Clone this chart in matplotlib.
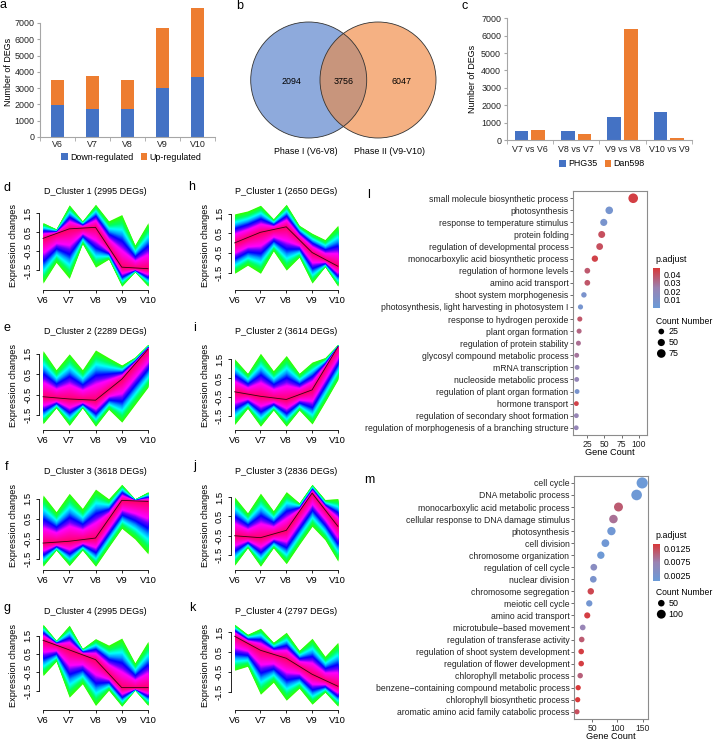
import numpy as np
import matplotlib
matplotlib.use("Agg")
import matplotlib.pyplot as plt
from matplotlib.colors import LinearSegmentedColormap, Normalize
from matplotlib.patches import Circle

plt.rcParams['font.family'] = ['Liberation Sans', 'DejaVu Sans']
plt.rcParams['axes.unicode_minus'] = False

W, H = 714, 741
fig = plt.figure(figsize=(W / 100, H / 100), dpi=100)

BLUE = "#4472c4"
ORANGE = "#ed7d31"
GRAY = "#a6a6a6"
FS = 6.4

# ---- data ----
stages = ["V6", "V7", "V8", "V9", "V10"]
down_reg = [1950, 1730, 1690, 3020, 3680]
up_reg = [1550, 2030, 1810, 3670, 4220]

venn_only1 = 2094
venn_both = 3756
venn_only2 = 6047

comparisons = ["V7 vs V6", "V8 vs V7", "V9 vs V8", "V10 vs V9"]
phg35 = [520, 500, 1300, 1590]
dan598 = [590, 350, 6400, 130]

# cluster profiles: centre at V6..V10, envelope at V6, V6-V7, V7, ... V10
d_titles = ["D_Cluster 1 (2995 DEGs)", "D_Cluster 2 (2289 DEGs)",
            "D_Cluster 3 (3618 DEGs)", "D_Cluster 4 (2995 DEGs)"]
d_center = [[0.18, 0.68, 0.76, -1.33, -1.41],
            [-0.61, -0.72, -0.78, 0.25, 1.73],
            [-0.70, -0.61, -0.45, 1.42, 1.37],
            [1.24, 0.72, 0.19, -1.33, -1.33]]
d_upper = [[1.01, 0.68, 1.94, 1.10, 1.97, 1.10, 1.43, -0.16, 1.01],
           [1.66, 0.72, 1.50, 0.72, 1.69, 1.31, 0.95, 1.34, 1.97],
           [1.69, 0.86, 1.77, 1.02, 1.98, 1.50, 2.22, 1.50, 1.85],
           [2.11, 1.24, 2.06, 0.80, 1.33, 0.98, 1.36, 0.02, 1.19]]
d_lower = [[-2.17, -1.08, -1.92, -0.10, -1.33, -0.91, -2.33, -1.58, -2.33],
           [-1.94, -1.16, -2.02, -1.16, -2.06, -1.23, -1.86, -1.00, -0.14],
           [-1.85, -1.05, -1.82, -1.05, -1.85, -0.90, 0.03, -0.50, -1.24],
           [-0.68, 0.10, -1.85, -1.12, -2.30, -1.47, -2.34, -1.47, -2.30]]

p_titles = ["P_Cluster 1 (2650 DEGs)", "P_Cluster 2 (3614 DEGs)",
            "P_Cluster 3 (2836 DEGs)", "P_Cluster 4 (2797 DEGs)"]
p_center = [[0.02, 0.56, 0.84, -0.47, -1.17],
            [-0.23, -0.47, -0.64, -0.13, 2.17],
            [-0.51, -0.61, -0.23, 1.70, -0.02],
            [1.30, 0.60, 0.20, -0.60, -1.20]]
p_upper = [[1.50, 1.65, 1.94, 1.25, 1.99, 0.92, 0.51, 0.19, 0.92],
           [1.53, 0.76, 1.83, 0.90, 1.71, 0.76, 1.36, 1.60, 2.31],
           [1.50, 0.68, 1.70, 0.79, 1.78, 1.20, 2.16, 1.37, 1.42],
           [1.90, 1.40, 1.70, 1.00, 1.50, 0.60, 1.20, 0.30, 1.00]]
p_lower = [[-1.53, -1.12, -1.53, -0.39, -1.37, -0.71, -2.03, -1.20, -2.19],
           [-1.98, -1.12, -2.07, -1.21, -2.07, -1.21, -1.95, -0.78, 0.42],
           [-2.04, -1.14, -2.09, -1.14, -1.96, -0.97, -0.02, -0.72, -1.83],
           [-0.40, -0.20, -1.60, -1.00, -1.90, -1.30, -2.10, -1.50, -2.20]]

l_terms = ["small molecule biosynthetic process", "photosynthesis",
           "response to temperature stimulus", "protein folding",
           "regulation of developmental process",
           "monocarboxylic acid biosynthetic process",
           "regulation of hormone levels", "amino acid transport",
           "shoot system morphogenesis",
           "photosynthesis, light harvesting in photosystem I",
           "response to hydrogen peroxide", "plant organ formation",
           "regulation of protein stability",
           "glycosyl compound metabolic process", "mRNA transcription",
           "nucleoside metabolic process",
           "regulation of plant organ formation", "hormone transport",
           "regulation of secondary shoot formation",
           "regulation of morphogenesis of a branching structure"]
l_count = [92, 57, 49, 46, 43, 36, 25, 25, 20, 15, 14, 13, 12, 9.5, 10,
           9.5, 10, 9, 9, 8.8]
l_padj = [0.045, 0.006, 0.007, 0.040, 0.040, 0.044, 0.037, 0.038, 0.008,
          0.006, 0.038, 0.033, 0.030, 0.028, 0.021, 0.021, 0.007, 0.044,
          0.022, 0.021]

m_terms = ["cell cycle", "DNA metabolic process",
           "monocarboxylic acid metabolic process",
           "cellular response to DNA damage stimulus", "photosynthesis",
           "cell division", "chromosome organization",
           "regulation of cell cycle", "nuclear division",
           "chromosome segregation", "meiotic cell cycle",
           "amino acid transport", "microtubule\u2212based movement",
           "regulation of transferase activity",
           "regulation of shoot system development",
           "regulation of flower development",
           "chlorophyll metabolic process",
           "benzene\u2212containing compound metabolic process",
           "chlorophyll biosynthetic process",
           "aromatic amino acid family catabolic process"]
m_count = [149, 138, 102, 92, 88, 76, 67, 53, 52, 47, 44, 40, 31, 29, 28,
           28, 26, 22, 21, 19.6]
m_padj = [0.0010, 0.0012, 0.0110, 0.0090, 0.0015, 0.0015, 0.0012, 0.0050,
          0.0030, 0.0128, 0.0020, 0.0135, 0.0070, 0.0110, 0.0135, 0.0135,
          0.0105, 0.0140, 0.0140, 0.0120]


def px_axes(x0, y0, x1, y1):
    return fig.add_axes([x0 / W, 1 - y1 / H, (x1 - x0) / W, (y1 - y0) / H])


def px_text(x, y, s, **kw):
    fig.text(x / W, 1 - y / H, s, **kw)


def excel_axes(ax):
    for side in ["top", "right"]:
        ax.spines[side].set_visible(False)
    for side in ["left", "bottom"]:
        ax.spines[side].set_color(GRAY)
        ax.spines[side].set_linewidth(0.8)
    ax.tick_params(labelsize=FS, colors="#222222")
    ax.tick_params(axis="y", length=2.5, color=GRAY, pad=1.5)


# ---- a: stacked bars ----
ax = px_axes(40, 6.7, 215, 137)
x = np.arange(len(stages))
ax.bar(x, down_reg, 0.37, color=BLUE, label="Down-regulated")
ax.bar(x, up_reg, 0.37, bottom=down_reg, color=ORANGE, label="Up-regulated")
ax.set_xlim(-0.5, 4.5)
ax.set_ylim(0, 8000)
ax.set_yticks(range(0, 7001, 1000))
ax.set_xticks(x)
ax.set_xticklabels(stages)
ax.set_xticks(np.arange(-0.5, 5), minor=True)
excel_axes(ax)
ax.spines["left"].set_bounds(0, 7000)
ax.tick_params(axis="x", which="major", length=0, pad=2.5)
ax.tick_params(axis="x", which="minor", length=3, color=GRAY)
ax.set_ylabel("Number of DEGs", fontsize=FS)
ax.yaxis.set_label_coords(-27 / 175, 0.5)
ax.legend(loc="center", bbox_to_anchor=(131.5 / W, 1 - 157 / H),
          bbox_transform=fig.transFigure, ncol=2, frameon=False,
          fontsize=FS, handlelength=0.7, handleheight=0.7,
          handletextpad=0.3, columnspacing=0.8)

# ---- b: venn ----
ax = px_axes(235, 15, 455, 170)
ax.set_xlim(235, 455)
ax.set_ylim(170, 15)
ax.axis("off")
c1 = Circle((308.7, 80), 58, facecolor="#8eaadc", edgecolor="none")
c2 = Circle((378, 80), 58, facecolor="#f5b183", edgecolor="none")
ax.add_patch(c1)
ax.add_patch(c2)
inter = Circle((308.7, 80), 58, facecolor="#c8957c", edgecolor="none")
ax.add_patch(inter)
inter.set_clip_path(c2)
for cx in [308.7, 378]:
    ax.add_patch(Circle((cx, 80), 58, facecolor="none", edgecolor="#333333",
                        lw=0.6))
ax.text(291, 82, str(venn_only1), fontsize=FS, ha="center", va="center")
ax.text(344, 82, str(venn_both), fontsize=FS, ha="center", va="center")
ax.text(402, 82, str(venn_only2), fontsize=FS, ha="center", va="center")
ax.text(306, 151, "Phase I (V6-V8)", fontsize=FS, ha="center", va="center")
ax.text(389, 151, "Phase II (V9-V10)", fontsize=FS, ha="center", va="center")

# ---- c: grouped bars ----
ax = px_axes(506.7, 18.3, 692, 140)
x = np.arange(len(comparisons))
ax.bar(x - 0.18, phg35, 0.29, color=BLUE, label="PHG35")
ax.bar(x + 0.18, dan598, 0.29, color=ORANGE, label="Dan598")
ax.set_xlim(-0.5, 3.5)
ax.set_ylim(0, 7000)
ax.set_yticks(range(0, 7001, 1000))
ax.set_xticks(x)
ax.set_xticklabels(comparisons)
ax.set_xticks(np.arange(-0.5, 4), minor=True)
excel_axes(ax)
ax.tick_params(axis="x", which="major", length=0, pad=3.5)
ax.tick_params(axis="x", which="minor", length=3, color=GRAY)
ax.set_ylabel("Number of DEGs", fontsize=FS)
ax.yaxis.set_label_coords(-30 / 185.3, 0.5)
ax.legend(loc="center", bbox_to_anchor=(602 / W, 1 - 164 / H),
          bbox_transform=fig.transFigure, ncol=2, frameon=False,
          fontsize=FS, handlelength=0.7, handleheight=0.7,
          handletextpad=0.3, columnspacing=0.8)

# ---- d-k: cluster profiles ----
member_cmap = LinearSegmentedColormap.from_list("member", [
    (0.0, "#33ff00"), (0.15, "#00ff66"), (0.27, "#00ffff"),
    (0.37, "#0099ff"), (0.48, "#0000ff"), (0.58, "#6600ff"),
    (0.67, "#ff00ff"), (0.85, "#ff00aa"), (1.0, "#ff0066")])


def cluster_panel(x0, x1, bottom, title, center, upper, lower):
    ax = px_axes(x0, bottom - 88.5, x1, bottom)
    xs = np.arange(9) / 2
    cen = np.interp(xs, np.arange(5), center)
    up = np.array(upper)
    lo = np.array(lower)
    for f in np.linspace(0, 0.97, 45):
        ax.fill_between(xs, cen + (1 - f) * (lo - cen), cen + (1 - f) * (up - cen),
                        color=member_cmap(f), lw=0)
    ax.plot(range(5), center, color="#3a0014", lw=0.6)
    span = max(upper) - min(lower)
    ax.set_ylim(min(lower) - 0.04 * span, max(upper) + 0.04 * span)
    ax.set_xlim(-0.16, 4.16)
    for side in ["top", "right"]:
        ax.spines[side].set_visible(False)
    ax.spines["left"].set_bounds(-1.5, 1.5)
    ax.spines["bottom"].set_bounds(0, 4)
    ax.set_xticks(range(5))
    ax.set_xticklabels(stages)
    ax.set_yticks([-1.5, -0.5, 0.5, 1.5])
    ax.set_yticklabels(["-1.5", "-0.5", "0.5", "1.5"], rotation=90, va="center")
    ax.tick_params(labelsize=6.8, length=2.5, width=0.6, pad=2)
    ax.tick_params(axis="y", pad=2.2)
    for s in ax.spines.values():
        s.set_linewidth(0.6)
    ax.set_ylabel("Expression changes", fontsize=6.6)
    ax.yaxis.set_label_coords(-21 / (x1 - x0), 0.5)
    ax.text(0.5, 1 + 9 / 88.5, title, transform=ax.transAxes, fontsize=6.5,
            ha="center", va="center")


bottoms = [289.5, 429.5, 569.5, 709.5]
for i in range(4):
    cluster_panel(38.8, 152.2, bottoms[i], d_titles[i], d_center[i],
                  d_upper[i], d_lower[i])
    cluster_panel(230.5, 342, bottoms[i], p_titles[i], p_center[i],
                  p_upper[i], p_lower[i])

# ---- l, m: GO dot plots ----
padj_cmap = LinearSegmentedColormap.from_list(
    "padj", ["#6b9bd8", "#9a84b4", "#d8393a"])


def go_panel(box, terms, counts, padj, xlim, xticks, vrange, cticks,
             size_fn, cbar_box, legend_top, legend_counts):
    x0, y0, x1, y1 = box
    ax = px_axes(x0, y0, x1, y1)
    n = len(terms)
    y = np.arange(n)
    norm = Normalize(*vrange)
    sizes = [(size_fn(c) * 0.72) ** 2 for c in counts]
    ax.scatter(counts, y, s=sizes, c=padj, cmap=padj_cmap, norm=norm,
               edgecolors="none", zorder=3)
    ax.set_xlim(*xlim)
    ax.set_ylim(n - 0.4, -0.6)
    ax.set_yticks(y)
    ax.set_yticklabels(terms)
    ax.set_xticks(xticks)
    ax.tick_params(labelsize=6.2, length=2, width=0.6, color="#555555",
                   pad=1.5, labelcolor="#222222")
    for s in ax.spines.values():
        s.set_color("#8c8c8c")
        s.set_linewidth(0.8)
    ax.set_xlabel("Gene Count", fontsize=6.6)
    ax.xaxis.set_label_coords(0.5, -17.5 / (y1 - y0))
    ax.xaxis.label.set_va("center")

    # colourbar
    bx0, by0, bx1, by1 = cbar_box
    cax = px_axes(bx0, by0, bx1, by1)
    grad = np.linspace(vrange[0], vrange[1], 100).reshape(-1, 1)
    cax.imshow(grad, aspect="auto", origin="lower", cmap=padj_cmap, norm=norm,
               extent=[0, 1, vrange[0], vrange[1]])
    cax.set_xticks([])
    cax.yaxis.tick_right()
    cax.set_yticks(cticks)
    cax.set_yticklabels([("%g" % t) for t in cticks])
    cax.tick_params(labelsize=6.4, length=0, pad=2.5)
    for s in cax.spines.values():
        s.set_visible(False)
    px_text(bx0 + 2.4, by0 - 8.5, "p.adjust", fontsize=6.4, va="center")

    # size legend
    px_text(bx0 + 2.4, legend_top, "Count Number", fontsize=6.2, va="center")
    lax = px_axes(bx0, legend_top + 5, bx0 + 40, legend_top + 5 + 11 * len(legend_counts))
    lax.set_xlim(0, 40)
    lax.set_ylim(11 * len(legend_counts), 0)
    lax.axis("off")
    for k, c in enumerate(legend_counts):
        lax.scatter([8], [5.5 + 11 * k], s=(size_fn(c) * 0.72) ** 2, color="black",
                    edgecolors="none")
        lax.text(15, 5.5 + 11 * k, str(c), fontsize=6.4, va="center")


go_panel((573.3, 191, 647.3, 435), l_terms, l_count, l_padj, (4.5, 112.6),
         [25, 50, 75, 100], (0.0, 0.047), [0.01, 0.02, 0.03, 0.04],
         lambda c: 4.8 + (c - 9) * 0.058, (653.3, 268.3, 660, 308.3), 321,
         [25, 50, 75])
go_panel((574.3, 475.7, 647.7, 719), m_terms, m_count, m_padj, (14.3, 160),
         [50, 100, 150], (0.0007, 0.014), [0.0025, 0.0075, 0.0125],
         lambda c: 5.2 + (c - 20) * 0.046, (653.3, 544, 660, 580.7), 592.7,
         [50, 100])

# ---- panel letters ----
letters = [("a", 3, 5), ("b", 240, 6), ("c", 465, 6), ("d", 7, 188),
           ("e", 7, 328), ("f", 7, 467), ("g", 7, 608), ("h", 192, 187),
           ("i", 195, 328), ("j", 195, 466), ("k", 192, 608), ("l", 369, 195),
           ("m", 369, 480)]
for s, lx, ly in letters:
    px_text(lx, ly, s, fontsize=9, ha="center", va="center")

fig.savefig("out.png", dpi=100)
